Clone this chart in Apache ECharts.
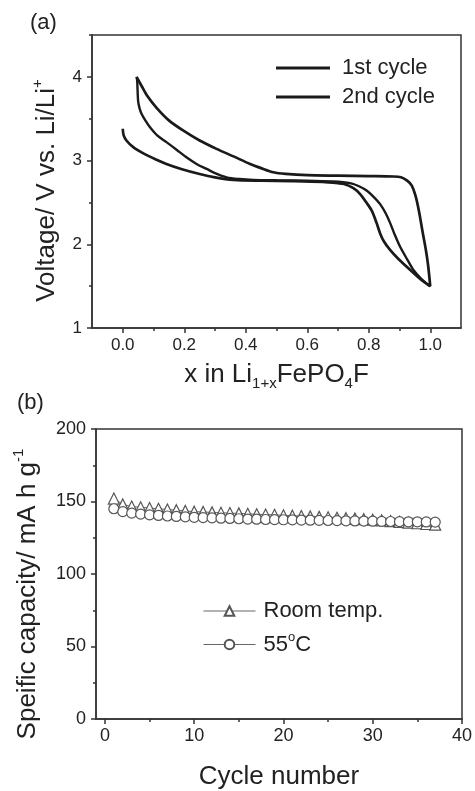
<!DOCTYPE html>
<html><head><meta charset="utf-8">
<script src="https://cdn.jsdelivr.net/npm/echarts@6/dist/echarts.min.js"></script>
<style>html,body{margin:0;padding:0;background:#fff}#c{width:475px;height:791px}</style>
</head><body><div id="c"></div>
<script>
// Panel (a): voltage profiles [x in Li1+xFePO4F, Voltage]
const cycle1Discharge = [[0.000,3.38],[0.003,3.30],[0.012,3.24],[0.034,3.16],[0.07,3.08],[0.11,3.01],[0.142,2.96],[0.19,2.90],[0.25,2.84],[0.30,2.80],[0.36,2.77],[0.45,2.76],[0.55,2.755],[0.65,2.745],[0.70,2.73],[0.72,2.72],[0.75,2.67],[0.772,2.60],[0.79,2.51],[0.81,2.40],[0.825,2.26],[0.837,2.13],[0.85,2.03],[0.87,1.93],[0.895,1.83],[0.924,1.73],[0.96,1.61],[0.98,1.55],[1.0,1.5]];
const cycle1Charge = [[0.993,1.75],[0.985,1.95],[0.975,2.15],[0.963,2.40],[0.952,2.58],[0.94,2.70],[0.925,2.76],[0.905,2.80],[0.88,2.81],[0.80,2.815],[0.70,2.82],[0.60,2.825],[0.53,2.84],[0.49,2.86],[0.45,2.91],[0.414,2.96],[0.36,3.05],[0.305,3.14],[0.25,3.24],[0.196,3.36],[0.15,3.48],[0.11,3.63],[0.08,3.77],[0.06,3.90],[0.045,4.0]];
const cycle2Discharge = [[0.045,4.0],[0.047,3.95],[0.05,3.71],[0.055,3.62],[0.061,3.56],[0.075,3.47],[0.088,3.40],[0.112,3.30],[0.142,3.22],[0.175,3.13],[0.207,3.04],[0.24,2.96],[0.273,2.90],[0.30,2.85],[0.338,2.80],[0.38,2.78],[0.425,2.77],[0.5,2.765],[0.6,2.76],[0.68,2.75],[0.739,2.73],[0.77,2.69],[0.794,2.64],[0.815,2.57],[0.837,2.48],[0.855,2.37],[0.87,2.25],[0.885,2.11],[0.902,1.97],[0.925,1.82],[0.946,1.69],[0.97,1.59],[0.995,1.51],[1.0,1.5]];
const xTicksA = [0, 0.2, 0.4, 0.6, 0.8, 1.0];
const xMinorA = [0.1, 0.3, 0.5, 0.7, 0.9];
const yTicksA = [1, 2, 3, 4];
const yMinorA = [1.5, 2.5, 3.5, 4.5];

// Panel (b): cycling
const cycleNumbers = [1,2,3,4,5,6,7,8,9,10,11,12,13,14,15,16,17,18,19,20,21,22,23,24,25,26,27,28,29,30,31,32,33,34,35,36,37];
const roomTemp = [152,148,146.5,146,145.5,145,144.5,144,143.5,143,142.8,142.5,142.2,142,141.8,141.5,141.2,141,140.8,140.5,140.2,140,139.7,139.4,139.1,138.8,138.5,138.2,137.8,137.4,137,136.5,136,135.5,135,134.5,134];
const temp55 = [145,143,142,141.3,140.8,140.4,140,139.7,139.4,139.1,138.9,138.7,138.5,138.3,138.1,137.9,137.8,137.6,137.5,137.4,137.3,137.2,137.1,137,136.9,136.8,136.7,136.6,136.5,136.4,136.3,136.2,136.1,136,136,135.9,135.8];
const xTicksB = [0, 10, 20, 30, 40];
const xMinorB = [5, 15, 25, 35];

const FONT = 'Liberation Sans, Arial, sans-serif';
const AX = '#333';
const TXT = '#222';

const chart = echarts.init(document.getElementById('c'), null, {renderer: 'canvas'});

function mainAxis(extra) {
  return Object.assign({
    type: 'value',
    axisLine: {show: true, onZero: false, lineStyle: {color: AX, width: 1.5}},
    axisTick: {show: true, length: 5, lineStyle: {color: AX, width: 1.5}},
    splitLine: {show: false},
    axisLabel: {color: TXT, fontFamily: FONT, fontSize: 17},
    nameTextStyle: {color: TXT, fontFamily: FONT, fontSize: 26}
  }, extra);
}
function minorAxis(extra) {
  return Object.assign({
    type: 'value',
    axisLine: {show: false, onZero: false},
    axisLabel: {show: false},
    splitLine: {show: false},
    axisTick: {show: true, length: 3, lineStyle: {color: AX, width: 1.5}}
  }, extra);
}

const option = {
  backgroundColor: '#fff',
  animation: false,
  graphic: [
    {type: 'text', left: 30, top: 12, style: {text: '(a)', fontSize: 22, fontFamily: FONT, fill: TXT}},
    {type: 'text', left: 17, top: 392, style: {text: '(b)', fontSize: 22, fontFamily: FONT, fill: TXT}}
  ],
  grid: [
    {left: 92, top: 35, width: 369, height: 293, show: true, borderColor: AX, borderWidth: 1.5, backgroundColor: 'transparent'},
    {left: 96, top: 429, width: 367, height: 294, show: true, borderColor: AX, borderWidth: 1.5, backgroundColor: 'transparent'}
  ],
  xAxis: [
    mainAxis({gridIndex: 0, position: 'bottom', min: -0.1, max: 1.1,
      axisLabel: {color: TXT, fontFamily: FONT, fontSize: 17, margin: 9, customValues: xTicksA, formatter: v => v.toFixed(1)},
      axisTick: {show: true, length: 5, customValues: xTicksA, lineStyle: {color: AX, width: 1.5}},
      name: 'x in Li{sub|1+x}FePO{sub|4}F', nameLocation: 'middle', nameGap: 30,
      nameTextStyle: {color: TXT, fontFamily: FONT, fontSize: 26,
        rich: {sub: {fontSize: 15, fontFamily: FONT, color: TXT, padding: [18, 0, 0, 0]}}}}),
    minorAxis({gridIndex: 0, position: 'bottom', min: -0.1, max: 1.1,
      axisTick: {show: true, length: 3, customValues: xMinorA, lineStyle: {color: AX, width: 1.5}}}),
    mainAxis({gridIndex: 1, position: 'bottom', min: -1, max: 40,
      axisLabel: {color: TXT, fontFamily: FONT, fontSize: 18, margin: 8, customValues: xTicksB},
      axisTick: {show: true, length: 5, customValues: xTicksB, lineStyle: {color: AX, width: 1.5}},
      name: 'Cycle number', nameLocation: 'middle', nameGap: 45}),
    minorAxis({gridIndex: 1, position: 'bottom', min: -1, max: 40,
      axisTick: {show: true, length: 3, customValues: xMinorB, lineStyle: {color: AX, width: 1.5}}})
  ],
  yAxis: [
    mainAxis({gridIndex: 0, position: 'left', min: 1, max: 4.5,
      axisLabel: {color: TXT, fontFamily: FONT, fontSize: 17, margin: 10, customValues: yTicksA},
      axisTick: {show: true, length: 5, customValues: yTicksA, lineStyle: {color: AX, width: 1.5}},
      name: 'Voltage/ V vs. Li/Li{sup|+}', nameLocation: 'middle', nameGap: 29,
      nameTextStyle: {color: TXT, fontFamily: FONT, fontSize: 26, padding: [0, 18, 0, 0],
        rich: {sup: {fontSize: 15, fontFamily: FONT, color: TXT, padding: [0, 0, 18, 0]}}}}),
    minorAxis({gridIndex: 0, position: 'left', min: 1, max: 4.5,
      axisTick: {show: true, length: 3, customValues: yMinorA, lineStyle: {color: AX, width: 1.5}}}),
    mainAxis({gridIndex: 1, position: 'left', min: 0, max: 200, interval: 50,
      axisLabel: {color: TXT, fontFamily: FONT, fontSize: 18, margin: 10},
      minorTick: {show: true, splitNumber: 2, length: 3, lineStyle: {color: AX, width: 1.5}},
      name: 'Speific capacity/ mA h g{sup|-1}', nameLocation: 'middle', nameGap: 52,
      nameTextStyle: {color: TXT, fontFamily: FONT, fontSize: 26, padding: [0, 40, 0, 0],
        rich: {sup: {fontSize: 15, fontFamily: FONT, color: TXT, padding: [0, 0, 18, 0]}}}})
  ],
  legend: [
    {data: ['1st cycle', '2nd cycle'], orient: 'vertical', left: 271, top: 52, itemWidth: 54, itemHeight: 3, itemGap: 7,
      icon: 'rect', selectedMode: false,
      itemStyle: {color: '#1a1a1a', borderWidth: 0},
      textStyle: {color: TXT, fontFamily: FONT, fontSize: 22, padding: [0, 0, 0, 7]}},
    {data: ['Room temp.', '55°C'], orient: 'vertical', left: 198, top: 595, itemWidth: 52, itemHeight: 12, itemGap: 9,
      selectedMode: false,
      lineStyle: {width: 1},
      formatter: n => n === '55°C' ? '55{sup|o}C' : n,
      textStyle: {color: TXT, fontFamily: FONT, fontSize: 22, padding: [0, 0, 0, 3],
        rich: {sup: {fontSize: 13, fontFamily: FONT, color: TXT, padding: [0, 0, 14, 0]}}}}
  ],
  series: [
    {name: '1st cycle', type: 'line', xAxisIndex: 0, yAxisIndex: 0, symbol: 'none', smooth: 0.3,
      data: cycle1Discharge.concat(cycle1Charge), lineStyle: {color: '#1a1a1a', width: 2.7}, itemStyle: {color: '#1a1a1a'}},
    {name: '2nd cycle', type: 'line', xAxisIndex: 0, yAxisIndex: 0, symbol: 'none', smooth: 0.3,
      data: cycle2Discharge, lineStyle: {color: '#1a1a1a', width: 2.4}, itemStyle: {color: '#1a1a1a'}},
    {name: 'Room temp.', type: 'line', xAxisIndex: 2, yAxisIndex: 2, symbol: 'triangle', symbolSize: 11,
      data: cycleNumbers.map((c, i) => [c, roomTemp[i]]),
      lineStyle: {color: '#666', width: 1}, itemStyle: {color: '#fff', borderColor: '#555', borderWidth: 1.2}},
    {name: '55°C', type: 'line', xAxisIndex: 2, yAxisIndex: 2, symbol: 'circle', symbolSize: 10,
      data: cycleNumbers.map((c, i) => [c, temp55[i]]),
      lineStyle: {color: '#666', width: 1}, itemStyle: {color: '#fff', borderColor: '#555', borderWidth: 1.2}}
  ]
};
chart.setOption(option);
</script>
</body></html>
